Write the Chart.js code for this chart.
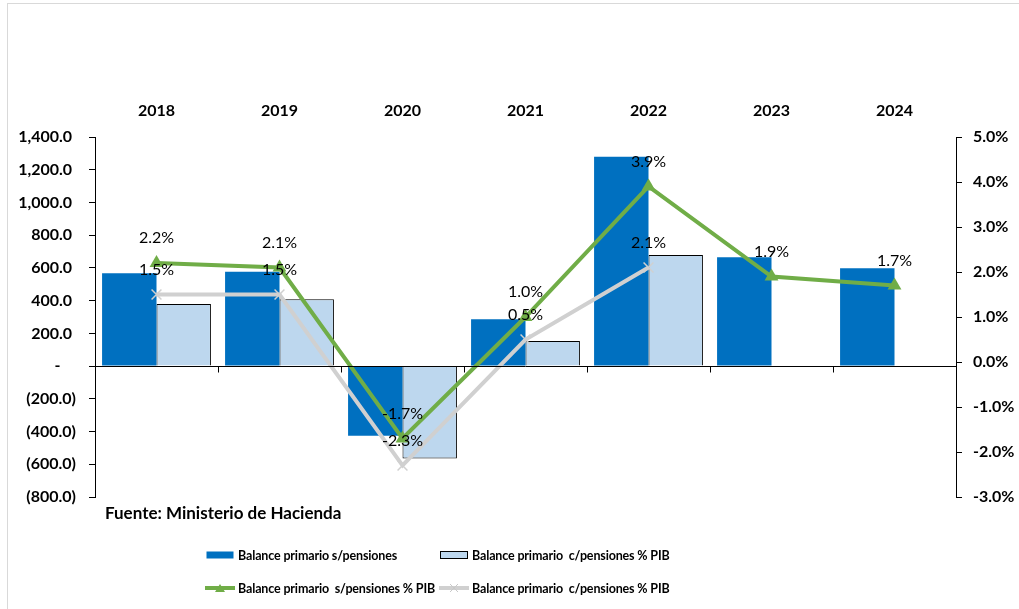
<!DOCTYPE html>
<html lang="es">
<head>
<meta charset="utf-8">
<title>Balance primario</title>
<script src="https://cdn.jsdelivr.net/npm/chart.js@4.4.1/dist/chart.umd.min.js"></script>
<style>
    html, body { margin: 0; padding: 0; background: #fff; overflow: hidden; }
    #wrap { position: relative; width: 1019px; height: 609px; font-family: Lato, "Open Sans", sans-serif; }
    #frame { position: absolute; left: 7px; top: 3px; width: 1030px; height: 640px; border: 1px solid #d9d9d9; box-sizing: border-box; }
    #chart { position: absolute; left: 0; top: 0; }
    #source { position: absolute; left: 105px; top: 502px; font-weight: bold; font-size: 17px; line-height: 22px; color: #000; }
    .legend-item { position: absolute; display: flex; align-items: center; font-weight: bold; font-size: 12.5px; letter-spacing: -0.15px; color: #000; white-space: pre; height: 20px; }
    .legend-item svg { margin-right: 3px; }
</style>
</head>
<body>
<div id="wrap">
    <div id="frame"></div>
    <canvas id="chart" width="1019" height="609"></canvas>
    <div id="source">Fuente: Ministerio de Hacienda</div>
    <div id="legend"></div>
</div>
<script>
// --- 1. Data ---

const years = ['2018', '2019', '2020', '2021', '2022', '2023', '2024'];
const balanceSinPensiones = [567, 577, -426, 286, 1280, 665, 598];
const balanceConPensiones = [379, 408, -565, 153, 679, null, null];
const pctSinPensiones = [2.2, 2.1, -1.7, 1.0, 3.9, 1.9, 1.7];
const pctConPensiones = [1.5, 1.5, -2.3, 0.5, 2.1, null, null];

const leftTicks = { min: -800, max: 1400, step: 200 };
const rightTicks = { min: -3, max: 5, step: 1 };

const COLORS = {
    darkBlue: '#0070C0',
    lightBlue: '#BDD7EE',
    green: '#70AD47',
    grey: '#D0D0D0'
};

const FONT = 'Lato, "Open Sans", sans-serif';


// --- 2. Formatting helpers ---

function formatAccounting(value) {
    if (value === 0) return '-    ';
    const abs = Math.abs(value).toLocaleString('en-US', { minimumFractionDigits: 1, maximumFractionDigits: 1 });
    return value < 0 ? `(${abs})` : `${abs} `;
}

function formatPct(value) {
    return `${value.toFixed(1)}%`;
}


// --- 3. Plugins ---

// zero line with small tick marks at category boundaries (Excel style)
const zeroAxisPlugin = {
    id: 'zeroAxis',
    afterDatasetsDraw(chart) {
        const { ctx, chartArea, scales } = chart;
        const y0 = Math.round(scales.y.getPixelForValue(0)) + 0.5;
        const n = chart.data.labels.length;
        const step = (chartArea.right - chartArea.left) / n;
        ctx.save();
        ctx.strokeStyle = '#000';
        ctx.lineWidth = 1;
        ctx.beginPath();
        ctx.moveTo(chartArea.left, y0);
        ctx.lineTo(chartArea.right, y0);
        for (let i = 1; i < n; i++) {
            const x = Math.round(chartArea.left + i * step) + 0.5;
            ctx.moveTo(x, y0);
            ctx.lineTo(x, y0 + 6);
        }
        ctx.stroke();
        ctx.restore();
    }
};

// value labels above the line points
const pointLabelsPlugin = {
    id: 'pointLabels',
    afterDatasetsDraw(chart) {
        const { ctx } = chart;
        ctx.save();
        ctx.font = `16px ${FONT}`;
        ctx.fillStyle = '#000';
        ctx.textAlign = 'center';
        ctx.textBaseline = 'middle';
        chart.data.datasets.forEach((ds, i) => {
            if (ds.type !== 'line') return;
            const meta = chart.getDatasetMeta(i);
            meta.data.forEach((pt, j) => {
                const v = ds.data[j];
                if (v === null || v === undefined) return;
                ctx.fillText(formatPct(v), pt.x, pt.y - 25);
            });
        });
        ctx.restore();
    }
};


// --- 4. Chart ---

const tickFont = { family: FONT, size: 16, weight: 'bold' };

const chart = new Chart(document.getElementById('chart'), {
    data: {
        labels: years,
        datasets: [
            {
                type: 'bar',
                label: 'Balance primario s/pensiones',
                data: balanceSinPensiones,
                backgroundColor: COLORS.darkBlue,
                borderWidth: 0,
                categoryPercentage: 0.885,
                barPercentage: 1,
                yAxisID: 'y',
                order: 2
            },
            {
                type: 'bar',
                label: 'Balance primario  c/pensiones % PIB',
                data: balanceConPensiones,
                backgroundColor: COLORS.lightBlue,
                borderColor: '#000',
                borderWidth: 1,
                categoryPercentage: 0.885,
                barPercentage: 1,
                yAxisID: 'y',
                order: 2
            },
            {
                type: 'line',
                label: 'Balance primario  s/pensiones % PIB',
                data: pctSinPensiones,
                borderColor: COLORS.green,
                backgroundColor: COLORS.green,
                borderWidth: 4,
                pointStyle: 'triangle',
                pointRadius: 8,
                pointBorderWidth: 0,
                yAxisID: 'y1',
                order: 0
            },
            {
                type: 'line',
                label: 'Balance primario  c/pensiones % PIB',
                data: pctConPensiones,
                borderColor: COLORS.grey,
                backgroundColor: COLORS.grey,
                borderWidth: 4,
                pointStyle: 'crossRot',
                pointRadius: 7,
                pointBorderWidth: 1.5,
                yAxisID: 'y1',
                order: 1
            }
        ]
    },
    options: {
        responsive: false,
        animation: false,
        layout: { padding: { top: 100, bottom: 112, left: 0, right: 0 } },
        plugins: {
            legend: { display: false },
            tooltip: { enabled: false }
        },
        scales: {
            x: {
                position: 'top',
                grid: { display: false, drawTicks: false },
                border: { display: false },
                ticks: { font: tickFont, color: '#000', padding: 17 },
                afterFit(scale) { scale.height = 37; }
            },
            y: {
                position: 'left',
                min: leftTicks.min,
                max: leftTicks.max,
                ticks: {
                    stepSize: leftTicks.step,
                    font: tickFont,
                    color: '#000',
                    padding: 13,
                    callback: v => formatAccounting(v)
                },
                grid: { drawOnChartArea: false, tickLength: 6, color: '#000' },
                border: { color: '#000', width: 1 },
                afterFit(scale) { scale.width = 95; }
            },
            y1: {
                position: 'right',
                min: rightTicks.min,
                max: rightTicks.max,
                ticks: {
                    stepSize: rightTicks.step,
                    font: tickFont,
                    color: '#000',
                    padding: 11,
                    callback: v => formatPct(v)
                },
                grid: { drawOnChartArea: false, tickLength: 6, color: '#000' },
                border: { color: '#000', width: 1 },
                afterFit(scale) { scale.width = 63; }
            }
        }
    },
    plugins: [zeroAxisPlugin, pointLabelsPlugin]
});


// --- 5. HTML legend (2 x 2 grid like the original) ---

function markerSvg(ds) {
    if (ds.type === 'bar') {
        const stroke = ds.borderWidth ? `stroke="${ds.borderColor}" stroke-width="1"` : '';
        return `<svg width="30" height="10"><rect x="1.5" y="1.5" width="27" height="7" fill="${ds.backgroundColor}" ${stroke}/></svg>`;
    }
    const mark = ds.pointStyle === 'triangle'
        ? `<polygon points="15,1 20,9 10,9" fill="${ds.borderColor}"/>`
        : `<path d="M11,1 L19,9 M19,1 L11,9" stroke="#c8c8c8" stroke-width="1"/>`;
    return `<svg width="30" height="10"><line x1="0" y1="5" x2="30" y2="5" stroke="${ds.borderColor}" stroke-width="4"/>${mark}</svg>`;
}

function renderLegend(container, datasets) {
    const slots = [
        { left: 205, top: 545 },
        { left: 439, top: 545 },
        { left: 205, top: 578 },
        { left: 439, top: 578 }
    ];
    container.innerHTML = datasets.map((ds, i) => `
        <div class="legend-item" style="left:${slots[i].left}px;top:${slots[i].top}px">${markerSvg(ds)}<span>${ds.label}</span></div>
    `).join('');
}

renderLegend(document.getElementById('legend'), chart.data.datasets);
</script>
</body>
</html>
